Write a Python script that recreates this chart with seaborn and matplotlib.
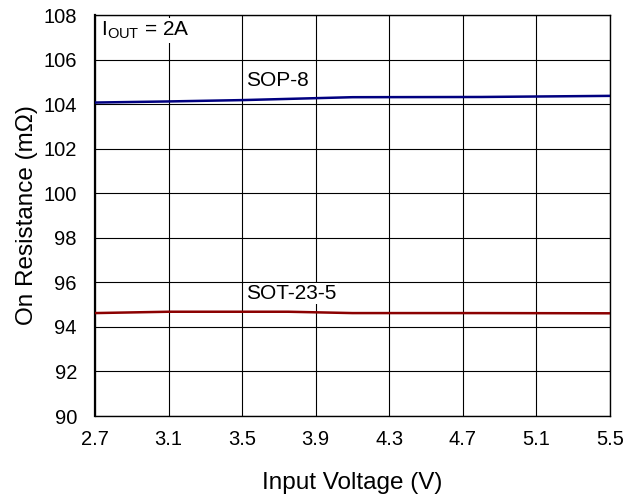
import matplotlib
matplotlib.use("Agg")
import matplotlib.pyplot as plt
import seaborn as sns
import pandas as pd

sns.set_theme(style="white")
plt.rcParams['font.family'] = ['Liberation Sans', 'DejaVu Sans']
plt.rcParams['mathtext.fontset'] = 'custom'
plt.rcParams['mathtext.rm'] = 'Liberation Sans'
plt.rcParams['text.color'] = 'black'

# Data
sop_v = [2.7, 3.1, 3.5, 4.1, 4.8, 5.5]
sop_r = [104.07, 104.12, 104.18, 104.31, 104.32, 104.37]
sot_v = [2.7, 3.1, 3.75, 4.1, 4.8, 5.5]
sot_r = [94.62, 94.68, 94.68, 94.62, 94.62, 94.61]
xticks = [2.7, 3.1, 3.5, 3.9, 4.3, 4.7, 5.1, 5.5]
yticks = [90, 92, 94, 96, 98, 100, 102, 104, 106, 108]

df = pd.concat([
    pd.DataFrame({"V": sop_v, "R": sop_r, "pkg": "SOP-8"}),
    pd.DataFrame({"V": sot_v, "R": sot_r, "pkg": "SOT-23-5"}),
])

fig = plt.figure(figsize=(6.24, 4.98), dpi=100)
ax = fig.add_axes([95/624, 1 - 416/498, 515/624, 401/498])

sns.lineplot(data=df, x="V", y="R", hue="pkg",
             palette={"SOP-8": "#000080", "SOT-23-5": "#8B0000"},
             linewidth=1.8, legend=False, ax=ax, zorder=3)

ax.set_xlim(2.7, 5.5)
ax.set_ylim(90, 108)
ax.set_xticks(xticks)
ax.set_xticklabels([f"{t:.1f}" for t in xticks])
ax.set_yticks(yticks)
ax.grid(True, color="black", linewidth=0.8)
for s in ax.spines.values():
    s.set_color("black")
    s.set_linewidth(1.0)
ax.spines['left'].set_linewidth(1.6)
ax.tick_params(axis='y', direction='in', length=4, width=1, color='black',
               pad=13, labelsize=14.5, labelcolor='black')
ax.tick_params(axis='x', length=0, pad=10, labelsize=14.5, labelcolor='black')

ax.set_xlabel("Input Voltage (V)", fontsize=17.5, labelpad=17, color='black')
ax.set_ylabel("On Resistance (m\u03a9)", fontsize=17.5, labelpad=4, color='black')

bbox = dict(facecolor='white', edgecolor='none', pad=1)
ax.text(2.73, 107.8, r"I$_{\mathrm{OUT}}$ = 2A", fontsize=15, va='top', ha='left',
        bbox=bbox, zorder=4, color='black')
ax.text(3.52, 105.05, "SOP-8", fontsize=15, va='center', ha='left', bbox=bbox,
        zorder=4, color='black')
ax.text(3.52, 95.5, "SOT-23-5", fontsize=15, va='center', ha='left', bbox=bbox,
        zorder=4, color='black')

fig.savefig("out.png", dpi=100, facecolor="white")
